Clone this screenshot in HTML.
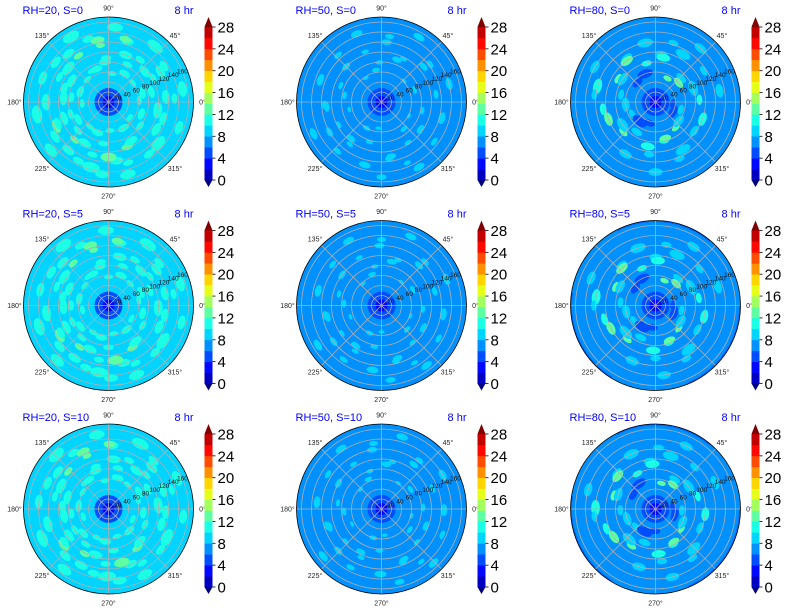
<!DOCTYPE html>
<html><head><meta charset="utf-8">
<style>
html,body{margin:0;padding:0;background:#fff;}
svg{display:block;font-family:"Liberation Sans",sans-serif;}
</style></head>
<body>
<svg id="fig" width="785" height="612" viewBox="0 0 785 612"></svg>
<script>
const colTitles = ["RH=20","RH=50","RH=80"];
const rowTitles = ["S=0","S=5","S=10"];
const timeLabel = "8 hr";
const cbTicks = [0,4,8,12,16,20,24,28];
const levels = [0,2,4,6,8,10,12,14,16,18,20,22,24,26,28];
const radialTicks = [20,40,60,80,100,120,140,160];
const angleTicks = [0,45,90,135,180,225,270,315];
const baseLevel = [9,7,7];
const innerLevel = [5,5,5];
const coreLevel = [3,3,3];
const blobsRH20 = [[10,150,11,8],[30,120,11,7],[50,145,11,9],[70,100,11,7],[85,150,11,8],[100,125,13,7],[120,150,11,9],[140,105,11,8],[160,140,11,7],[175,90,11,7],[190,145,11,9],[205,115,13,7],[220,150,11,8],[240,95,11,7],[255,135,11,9],[270,110,13,8],[285,150,11,8],[300,90,11,7],[320,130,11,9],[340,150,11,7],[350,100,11,8],[15,70,11,6],[60,65,11,6],[110,70,11,6],[160,60,11,6],[210,70,11,6],[250,65,11,6],[300,60,11,6],[340,70,11,6],[40,95,11,7],[130,125,11,7],[200,95,11,7],[265,145,11,7],[330,110,11,7],[75,130,13,6],[180,125,11,8],[230,125,11,7],[5,115,11,7],[95,80,11,6],[150,85,11,7]];
const blobsRH50 = [[15,140,9,6],[40,110,9,5],[60,150,9,6],[85,120,9,5],[110,145,9,6],[135,100,9,5],[160,130,9,6],[185,110,9,5],[205,150,9,6],[230,95,9,5],[255,130,9,6],[280,110,9,5],[300,150,9,6],[325,95,9,5],[345,125,9,6],[20,70,9,4],[100,65,9,4],[170,75,9,4],[240,60,9,4],[310,70,9,4],[70,90,9,5],[210,120,9,5],[270,150,9,5]];
const blobsRH80 = [[20,80,9,8],[40,60,13,6],[60,110,9,8],[80,90,11,7],[100,120,9,8],[125,100,13,7],[145,80,9,7],[165,120,11,8],[185,60,9,7],[200,100,13,7],[215,80,9,8],[240,120,9,7],[260,90,11,7],[285,75,13,6],[300,110,9,8],[320,60,9,7],[340,100,11,7],[10,130,9,7],[110,60,5,8],[230,50,5,8],[330,40,5,7],[150,140,9,7],[270,140,9,7],[50,140,9,7]];
const blobSets = [blobsRH20, blobsRH50, blobsRH80];

const colCx = [108.5, 381.5, 655.5];
const rowCy = [102, 305.5, 509];
const R = 85, RMAX = 170;

function jet(x){
  const c=v=>Math.round(255*Math.max(0,Math.min(1,v)));
  return `rgb(${c(1.5-Math.abs(4*x-3))},${c(1.5-Math.abs(4*x-2))},${c(1.5-Math.abs(4*x-1))})`;
}
function bandColor(v){
  let i=Math.floor(v/2); if(i<0) return jet(0); if(i>13) return jet(1);
  return jet((i+1)/15);
}
const NS="http://www.w3.org/2000/svg";
const svg=document.getElementById('fig');
function mk(tag,attrs,parent){const e=document.createElementNS(NS,tag);for(const k in attrs)e.setAttribute(k,attrs[k]);(parent||svg).appendChild(e);return e;}
function rscale(r){return r*R/RMAX;}
function blob(field,cx,cy,thetaDeg,r,val,size){
  const t=thetaDeg*Math.PI/180, rr=rscale(r);
  const x=cx+rr*Math.cos(t), y=cy-rr*Math.sin(t);
  const e=mk('ellipse',{cx:x.toFixed(1),cy:y.toFixed(1),rx:size,ry:(size*0.55).toFixed(1),fill:bandColor(val),transform:`rotate(${(-thetaDeg+90).toFixed(1)} ${x.toFixed(1)} ${y.toFixed(1)})`},field);
  
  
}

for(let ri=0;ri<3;ri++){for(let ci=0;ci<3;ci++){
  const cx=colCx[ci], cy=rowCy[ri];
  const g=mk('g',{});
  
  
  const cid='clip'+ri+ci;
  const cp=mk('clipPath',{id:cid},g); mk('circle',{cx,cy,r:R},cp);
  const field=mk('g',{'clip-path':`url(#${cid})`},g);
  
  
  mk('circle',{cx,cy,r:R,fill:bandColor(baseLevel[ci])},field);
  if(ci===2&&ri>0){mk('circle',{cx,cy,r:R,fill:'none',stroke:bandColor(5),'stroke-width':3,'stroke-dasharray':'100 80','opacity':0.7},field);}
  blobSets[ci].forEach(b=>{
    blob(field,cx,cy,b[0]+ri*7,b[1],b[2],b[3]);
    blob(field,cx,cy,b[0]+ri*7+23,b[1]*0.88,b[2],b[3]*0.75);
  });
  mk('circle',{cx,cy,r:rscale(28),fill:bandColor(innerLevel[ci])},field);
  mk('circle',{cx,cy,r:rscale(12),fill:bandColor(coreLevel[ci])},field);
  radialTicks.forEach(rt=>mk('circle',{cx,cy,r:rscale(rt),fill:'none',stroke:'#b0b0b0','stroke-width':0.8},g));
  angleTicks.forEach(a=>{const t=a*Math.PI/180;mk('line',{x1:cx,y1:cy,x2:cx+R*Math.cos(t),y2:cy-R*Math.sin(t),stroke:'#b0b0b0','stroke-width':0.8},g);});
  mk('circle',{cx,cy,r:R,fill:'none',stroke:'#000','stroke-width':0.8},g);
  angleTicks.forEach(a=>{const t=a*Math.PI/180;const tx=mk('text',{x:cx+(R+9)*Math.cos(t),y:cy-(R+9)*Math.sin(t)+2.5,'font-size':7,'text-anchor':'middle',fill:'#222'},g);tx.textContent=a+'°';
    });
  radialTicks.forEach(rt=>{const t=22.5*Math.PI/180;const tx=mk('text',{x:cx+rscale(rt)*Math.cos(t),y:cy-rscale(rt)*Math.sin(t)+2,'font-size':6.5,'text-anchor':'middle',fill:'#111'},g);tx.textContent=rt;
    });
  const tl=mk('text',{x:cx-86,y:cy-88,'font-size':11,fill:'#0000ff'},g);tl.textContent=colTitles[ci]+', '+rowTitles[ri];
  
  const tr=mk('text',{x:cx+85,y:cy-88,'font-size':11,fill:'#0000ff','text-anchor':'end'},g);tr.textContent=timeLabel;
  
  const cb=mk('g',{},g);
  
  
  const bx=cx+96, top=cy-75, bot=cy+78, bw=8, bh=(bot-top)/14;
  for(let i=0;i<14;i++){mk('rect',{x:bx,y:(bot-(i+1)*bh).toFixed(2),width:bw,height:(bh+0.3).toFixed(2),fill:bandColor(levels[i]+1)},cb);}
  mk('polygon',{points:`${bx},${top} ${bx+bw},${top} ${bx+bw/2},${top-10}`,fill:jet(1)},cb);
  mk('polygon',{points:`${bx},${bot} ${bx+bw},${bot} ${bx+bw/2},${bot+7}`,fill:jet(0)},cb);
  cbTicks.forEach(v=>{const y=bot-(v/28)*(bot-top);
    mk('line',{x1:bx+bw,y1:y,x2:bx+bw+3,y2:y,stroke:'#000','stroke-width':0.8},cb);
    const tx=mk('text',{x:bx+bw+5,y:y+5.5,'font-size':15,fill:'#000'},cb);tx.textContent=v;
    });
}}
</script>
</body></html>
